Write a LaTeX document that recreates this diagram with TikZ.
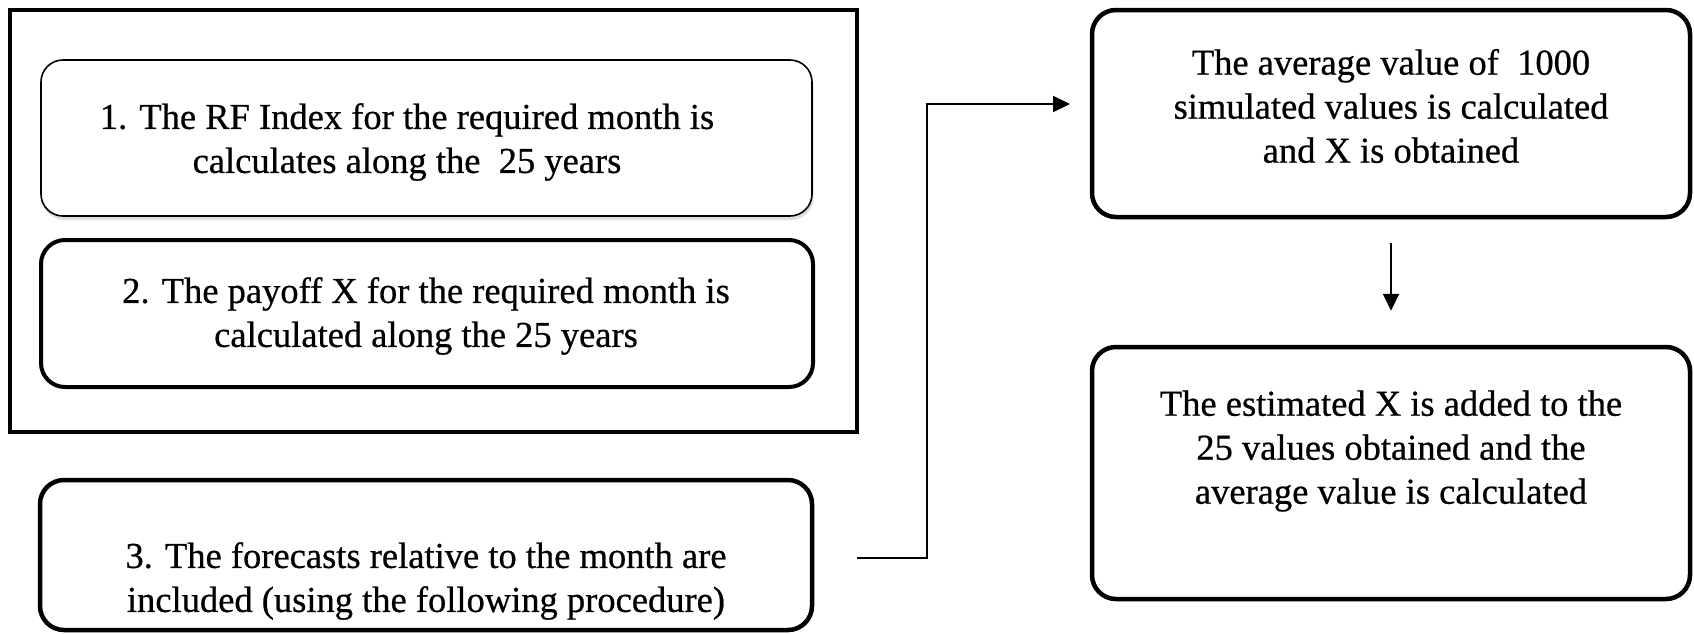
\documentclass[tikz,border=0pt]{standalone}
\usepackage{fontspec}
\setmainfont{Liberation Serif}
\newfontfamily\tnrfont[FakeBold=0.6]{Liberation Serif}
\usetikzlibrary{arrows.meta,shadows}
\begin{document}
\begin{tikzpicture}[x=1pt,y=-1pt,
  frame/.style={draw, line width=4.5pt, inner sep=0pt},
  box/.style={draw, rounded corners=24pt, line width=4.5pt, inner sep=0pt},
  thinbox/.style={draw, rounded corners=22pt, line width=1.6pt, inner sep=0pt, fill=white,
    drop shadow={opacity=0.25, shadow xshift=1.5pt, shadow yshift=-4pt}},
  txt/.style={align=center, font=\tnrfont\fontsize{36.5}{44}\selectfont, inner sep=0pt},
  conn/.style={line width=2pt, -{Triangle[length=17pt,width=16pt]}}]
\useasboundingbox (0,0) rectangle (1694,633);
% outer frame
\node[frame, minimum width=847pt, minimum height=422pt] (outer) at (433.5,221) {};
% left boxes
\node[thinbox, minimum width=771pt, minimum height=156pt] (b1) at (426.5,138) {};
\node[box, line width=4pt, minimum width=772pt, minimum height=147pt] (b2) at (427,313.5) {};
\node[box, minimum width=772pt, minimum height=150pt] (b3) at (426,555) {};
% right boxes
\node[box, minimum width=598pt, minimum height=207pt] (b4) at (1391,113.5) {};
\node[box, minimum width=598pt, minimum height=252pt] (b5) at (1391,473) {};
% texts
\node[txt] (t1) at (407,142) {1. The RF Index for the required month is\\calculates along the~ 25 years};
\node[txt] (t2) at (426,316) {2. The payoff X for the required month is\\calculated along the 25 years};
\node[txt] (t3) at (426,581) {3. The forecasts relative to the month are\\included (using the following procedure)};
\node[txt] (t4) at (1391,106) {The average value of~ 1000\\simulated values is calculated\\and X is obtained};
\node[txt] (t5) at (1391,451) {The estimated X is added to the\\25 values obtained and the\\average value is calculated};
% connectors
\coordinate (c0) at (857,558);
\coordinate (bend) at (927,104);
\coordinate (c1) at (1070,104);
\draw[conn] (c0) -| (bend) -- (c1);
\draw[conn, shorten <=24pt, shorten >=34pt] (b4.south) -- (b5.north);
\end{tikzpicture}
\end{document}
